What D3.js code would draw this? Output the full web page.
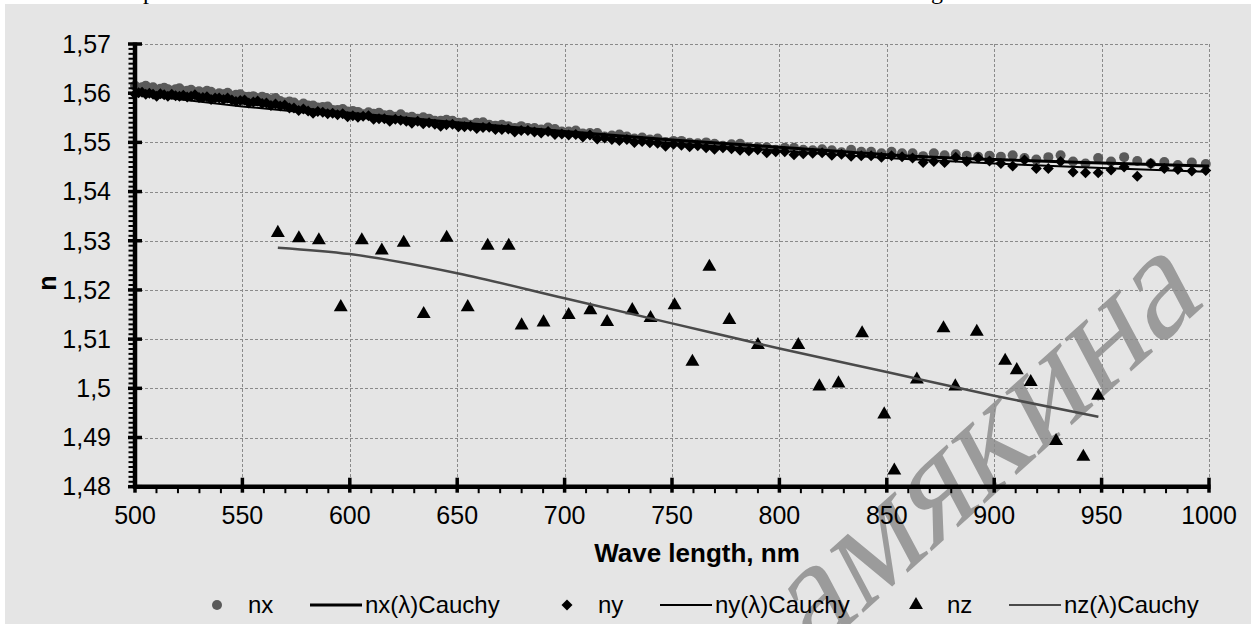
<!DOCTYPE html>
<html>
<head>
<meta charset="utf-8">
<script src="https://cdn.jsdelivr.net/npm/d3@7"></script>
<style>
  body { margin: 0; background: #fff; }
  svg { display: block; }
</style>
</head>
<body>
<div id="chart"></div>
<script>
// wavelength grid of the measured nx / ny points (nm)
const wavelength = [500.0,501.7,503.3,505.0,506.7,508.4,510.1,511.8,513.6,515.3,517.1,518.9,520.7,522.5,524.3,526.1,527.9,529.8,531.6,533.5,
  535.4,537.3,539.2,541.2,543.1,545.1,547.0,549.0,551.0,553.0,555.1,557.1,559.2,561.2,563.3,565.4,567.6,569.7,571.9,574.0,
  576.2,578.4,580.6,582.9,585.1,587.4,589.7,592.0,594.3,596.7,599.0,601.4,603.8,606.2,608.7,611.1,613.6,616.1,618.6,621.2,
  623.7,626.3,628.9,631.6,634.2,636.9,639.6,642.3,645.0,647.8,650.6,653.4,656.2,659.1,662.0,664.9,667.8,670.8,673.8,676.8,
  679.8,682.9,686.0,689.1,692.3,695.5,698.7,701.9,705.2,708.5,711.8,715.2,718.6,722.0,725.5,729.0,732.5,736.1,739.7,743.3,
  747.0,750.7,754.4,758.2,762.0,765.9,769.8,773.7,777.7,781.7,785.8,789.9,794.1,798.3,802.5,806.8,811.1,815.5,819.9,824.4,
  828.9,833.4,838.1,842.7,847.5,852.2,857.1,862.0,866.9,871.9,876.9,882.1,887.2,892.5,897.8,903.1,908.6,914.1,919.6,925.2,
  930.9,936.7,942.5,948.4,954.4,960.5,966.6,972.9,979.2,985.5,992.0,998.5];

const nxValues = [1.5615,1.5610,1.5612,1.5615,1.5609,1.5612,1.5606,1.5609,1.5611,1.5608,1.5605,1.5608,1.5610,1.5604,1.5605,1.5607,1.5602,1.5604,1.5601,1.5605,
  1.5603,1.5597,1.5600,1.5598,1.5601,1.5595,1.5597,1.5598,1.5593,1.5593,1.5594,1.5589,1.5593,1.5590,1.5587,1.5590,1.5584,1.5581,1.5583,1.5581,
  1.5575,1.5579,1.5575,1.5575,1.5571,1.5572,1.5573,1.5566,1.5566,1.5568,1.5563,1.5564,1.5562,1.5557,1.5561,1.5558,1.5560,1.5555,1.5556,1.5552,
  1.5557,1.5551,1.5552,1.5548,1.5551,1.5548,1.5544,1.5544,1.5546,1.5544,1.5540,1.5541,1.5536,1.5540,1.5541,1.5536,1.5534,1.5536,1.5533,1.5529,
  1.5533,1.5529,1.5529,1.5526,1.5530,1.5527,1.5522,1.5522,1.5524,1.5518,1.5519,1.5519,1.5512,1.5514,1.5516,1.5512,1.5508,1.5510,1.5506,1.5508,
  1.5501,1.5503,1.5503,1.5499,1.5498,1.5500,1.5497,1.5493,1.5496,1.5497,1.5490,1.5490,1.5490,1.5485,1.5489,1.5489,1.5485,1.5484,1.5486,1.5484,
  1.5480,1.5485,1.5481,1.5481,1.5478,1.5481,1.5478,1.5478,1.5472,1.5478,1.5474,1.5476,1.5473,1.5471,1.5473,1.5471,1.5474,1.5468,1.5465,1.5470,
  1.5474,1.5461,1.5457,1.5468,1.5461,1.5470,1.5462,1.5457,1.5460,1.5454,1.5459,1.5456];

const nyValues = [1.5598,1.5601,1.5602,1.5598,1.5600,1.5598,1.5594,1.5599,1.5597,1.5594,1.5598,1.5595,1.5594,1.5596,1.5592,1.5594,1.5597,1.5591,1.5591,1.5593,
  1.5587,1.5590,1.5590,1.5587,1.5590,1.5586,1.5583,1.5585,1.5586,1.5580,1.5582,1.5584,1.5579,1.5580,1.5575,1.5578,1.5574,1.5576,1.5570,1.5570,
  1.5565,1.5568,1.5564,1.5559,1.5563,1.5561,1.5558,1.5559,1.5556,1.5558,1.5552,1.5554,1.5551,1.5553,1.5554,1.5547,1.5548,1.5548,1.5543,1.5547,
  1.5545,1.5543,1.5539,1.5543,1.5538,1.5540,1.5537,1.5533,1.5536,1.5537,1.5532,1.5532,1.5533,1.5528,1.5530,1.5531,1.5526,1.5526,1.5527,1.5521,
  1.5524,1.5524,1.5521,1.5519,1.5522,1.5516,1.5517,1.5515,1.5516,1.5511,1.5515,1.5507,1.5509,1.5506,1.5504,1.5506,1.5500,1.5502,1.5499,1.5498,
  1.5492,1.5496,1.5494,1.5491,1.5493,1.5489,1.5486,1.5489,1.5487,1.5484,1.5483,1.5485,1.5479,1.5481,1.5481,1.5475,1.5477,1.5478,1.5479,1.5474,
  1.5476,1.5472,1.5473,1.5473,1.5470,1.5473,1.5471,1.5468,1.5459,1.5461,1.5459,1.5470,1.5461,1.5468,1.5462,1.5457,1.5452,1.5464,1.5447,1.5447,
  1.5461,1.5440,1.5438,1.5438,1.5444,1.5450,1.5431,1.5457,1.5447,1.5445,1.5442,1.5443];

// Cauchy fits, read at 50 nm steps
const cauchyWl = [500, 550, 600, 650, 700, 750, 800, 850, 900, 950, 1000];
const nxCauchy = [1.5604, 1.5580, 1.5559, 1.5540, 1.5522, 1.5505, 1.5490, 1.5475, 1.5465, 1.5458, 1.5452];
const nyCauchy = [1.5598, 1.5573, 1.5552, 1.5533, 1.5515, 1.5498, 1.5483, 1.5468, 1.5457, 1.5448, 1.5440];

// nz points and their fit
const nzWl = [566.5,576.3,585.6,595.8,605.6,614.9,625.1,634.4,645.1,654.9,664.2,674.0,680.0,690.2,701.9,712.0,719.8,731.5,740.0,751.2,
  759.5,767.4,776.7,790.0,808.8,818.6,827.5,838.5,848.8,853.5,864.0,876.4,881.9,891.9,905.1,910.5,917.0,928.8,941.5,948.4];
const nzValues = [1.5316,1.5305,1.5301,1.5165,1.5301,1.5280,1.5296,1.5151,1.5306,1.5165,1.5290,1.5290,1.5128,1.5134,1.5149,1.5159,1.5135,1.5159,1.5143,1.5169,
  1.5054,1.5247,1.5139,1.5088,1.5088,1.5004,1.5010,1.5112,1.4947,1.4833,1.5018,1.5122,1.5004,1.5115,1.5056,1.5037,1.5013,1.4893,1.4861,1.4985];
const nzCauchyWl = [566.5, 600, 650, 700, 750, 800, 850, 900, 948.5];
const nzCauchy = [1.5286, 1.5273, 1.5234, 1.5183, 1.5132, 1.5081, 1.5033, 1.4985, 1.4942];

const xTicks = [500, 550, 600, 650, 700, 750, 800, 850, 900, 950, 1000];
const yTicks = [1.48, 1.49, 1.50, 1.51, 1.52, 1.53, 1.54, 1.55, 1.56, 1.57];
const legendLabels = ["nx", "nx(λ)Cauchy", "ny", "ny(λ)Cauchy", "nz", "nz(λ)Cauchy"];

const W = 1251, H = 624;
const plotL = 135, plotR = 1209, plotT = 44, plotB = 486.7;
const font = "'Liberation Sans', Arial, sans-serif";

const svg = d3.select("#chart").append("svg")
  .attr("width", W).attr("height", H);

// bits of the page text above the chart (only descenders visible)
svg.append("rect").attr("width", W).attr("height", H).attr("fill", "#fff");
svg.append("text").attr("x", 143).attr("y", -1).attr("font-family", "'Liberation Serif', serif")
  .attr("font-size", 24).text("p");
svg.append("text").attr("x", 931).attr("y", -1).attr("font-family", "'Liberation Serif', serif")
  .attr("font-size", 24).text("g");

svg.append("rect").attr("x", 5).attr("y", 4).attr("width", W).attr("height", H)
  .attr("fill", "#e5e5e5");

// watermark sits under the chart marks (slanted roman serif)
svg.append("text")
  .attr("transform", "translate(990,448) rotate(-42) skewX(-14)")
  .attr("text-anchor", "middle").attr("dy", "0.25em")
  .attr("font-family", "'Liberation Serif', serif")
  .attr("font-size", 150).attr("fill", "#9b9b9b")
  .text("амякина");

const x = d3.scaleLinear().domain([500, 1000]).range([plotL, plotR]);
const y = d3.scaleLinear().domain([1.48, 1.57]).range([plotB, plotT]);

// grid
const grid = svg.append("g").attr("stroke", "#8a8a8a").attr("stroke-width", 1)
  .attr("stroke-dasharray", "3,2");
grid.selectAll(".hg").data(yTicks.slice(1)).join("line")
  .attr("x1", plotL).attr("x2", plotR)
  .attr("y1", d => Math.round(y(d)) + 0.5).attr("y2", d => Math.round(y(d)) + 0.5);
grid.selectAll(".vg").data(xTicks.slice(1)).join("line")
  .attr("y1", plotT).attr("y2", plotB)
  .attr("x1", d => Math.round(x(d)) + 0.5).attr("x2", d => Math.round(x(d)) + 0.5);

// series
const plot = svg.append("g");
const curve = d3.line().curve(d3.curveMonotoneX);
const diamond = "M0,-5.5L5.5,0L0,5.5L-5.5,0Z";
const tri = d3.symbol().type(d3.symbolTriangle).size(84)();

const nxPts = wavelength.map((w, i) => [w, nxValues[i]]);
const nyPts = wavelength.map((w, i) => [w, nyValues[i]]);

plot.selectAll(".nx").data(nxPts).join("circle")
  .attr("cx", d => x(d[0])).attr("cy", d => y(d[1])).attr("r", 5)
  .attr("fill", "#5a5a5a");
plot.append("path")
  .attr("d", curve(cauchyWl.map((w, i) => [x(w), y(nxCauchy[i])])))
  .attr("fill", "none").attr("stroke", "#000").attr("stroke-width", 3);
plot.selectAll(".ny").data(nyPts).join("path")
  .attr("transform", d => `translate(${x(d[0])},${y(d[1])})`)
  .attr("d", diamond).attr("fill", "#000");
plot.append("path")
  .attr("d", curve(cauchyWl.map((w, i) => [x(w), y(nyCauchy[i])])))
  .attr("fill", "none").attr("stroke", "#000").attr("stroke-width", 2);
plot.selectAll(".nz").data(nzWl.map((w, i) => [w, nzValues[i]])).join("path")
  .attr("transform", d => `translate(${x(d[0])},${y(d[1])})`)
  .attr("d", tri).attr("fill", "#000");
plot.append("path")
  .attr("d", curve(nzCauchyWl.map((w, i) => [x(w), y(nzCauchy[i])])))
  .attr("fill", "none").attr("stroke", "#4a4a4a").attr("stroke-width", 2.5);

// axes: thick line, crossing major ticks, small outside minor ticks
const yMinor = d3.range(1480, 1571).filter(v => v % 10 !== 0).map(v => v / 1000);
const xMinor = d3.range(500, 1001, 10).filter(v => v % 50 !== 0);

const axG = svg.append("g").attr("stroke", "#000");
axG.selectAll(".ymin").data(yMinor).join("line")
  .attr("x1", plotL - 6.5).attr("x2", plotL)
  .attr("y1", d => y(d)).attr("y2", d => y(d)).attr("stroke-width", 2);
axG.selectAll(".ymaj").data(yTicks).join("line")
  .attr("x1", plotL - 7).attr("x2", plotL + 7)
  .attr("y1", d => y(d)).attr("y2", d => y(d)).attr("stroke-width", 3.5);
axG.selectAll(".xmin").data(xMinor).join("line")
  .attr("y1", plotB).attr("y2", plotB + 6.5)
  .attr("x1", d => x(d)).attr("x2", d => x(d)).attr("stroke-width", 2);
axG.selectAll(".xmaj").data(xTicks).join("line")
  .attr("y1", plotB - 9).attr("y2", plotB + 6)
  .attr("x1", d => x(d)).attr("x2", d => x(d)).attr("stroke-width", 3.5);
axG.append("line").attr("x1", plotL).attr("x2", plotL).attr("y1", plotT - 1.5).attr("y2", plotB + 2)
  .attr("stroke-width", 4.5);
axG.append("line").attr("x1", plotL - 2).attr("x2", plotR + 1.5).attr("y1", plotB).attr("y2", plotB)
  .attr("stroke-width", 4.5);

const fmt = d => String(+d.toFixed(2)).replace(".", ",");
svg.append("g").selectAll("text").data(yTicks).join("text")
  .attr("x", 111).attr("y", d => y(d)).attr("dy", "0.35em")
  .attr("text-anchor", "end").attr("font-family", font).attr("font-size", 25)
  .text(fmt);
svg.append("g").selectAll("text").data(xTicks).join("text")
  .attr("x", d => x(d)).attr("y", 524)
  .attr("text-anchor", "middle").attr("font-family", font).attr("font-size", 25)
  .text(d => d);

svg.append("text").attr("x", 697).attr("y", 562).attr("text-anchor", "middle")
  .attr("font-family", font).attr("font-size", 26).attr("font-weight", "bold")
  .text("Wave length, nm");
svg.append("text").attr("transform", "translate(56,283) rotate(-90)")
  .attr("text-anchor", "middle").attr("font-family", font).attr("font-size", 25)
  .attr("font-weight", "bold").text("n");

// legend
const lg = svg.append("g").attr("font-family", font).attr("font-size", 24);
const ly = 605;
const symX = [217, 310, 567, 660, 916, 1009];
legendLabels.forEach((lab, i) => {
  const sx = symX[i];
  if (i % 2 === 1) {
    lg.append("line").attr("x1", sx).attr("x2", sx + 52).attr("y1", ly).attr("y2", ly)
      .attr("stroke", i === 5 ? "#4a4a4a" : "#000").attr("stroke-width", i === 1 ? 3 : 2);
    lg.append("text").attr("x", sx + 55).attr("y", ly).attr("dy", "0.35em").text(lab);
  } else {
    if (i === 0) lg.append("circle").attr("cx", sx).attr("cy", ly).attr("r", 5).attr("fill", "#5a5a5a");
    if (i === 2) lg.append("path").attr("transform", `translate(${sx},${ly})`).attr("d", diamond);
    if (i === 4) lg.append("path").attr("transform", `translate(${sx},${ly})`).attr("d", tri);
    lg.append("text").attr("x", sx + 31).attr("y", ly).attr("dy", "0.35em").text(lab);
  }
});
</script>
</body>
</html>
